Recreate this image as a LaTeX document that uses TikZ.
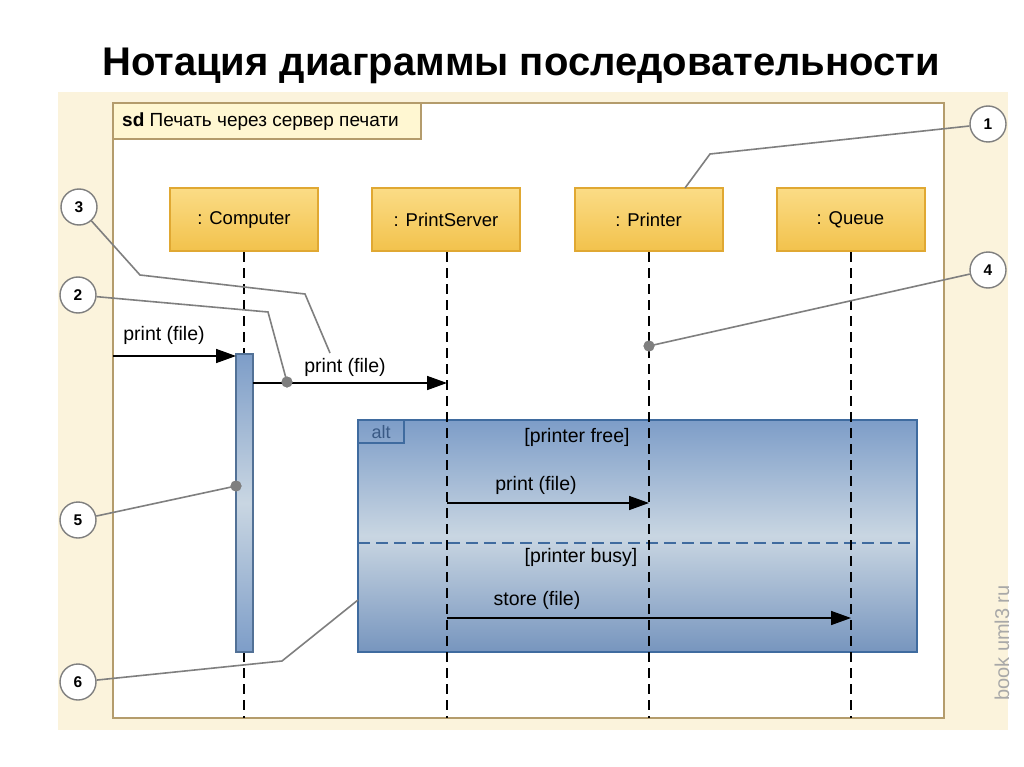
\documentclass[tikz,border=0pt]{standalone}
\usepackage{fontspec}
\setmainfont{Liberation Sans}
\usetikzlibrary{arrows.meta,calc}
\definecolor{bgbeige}{HTML}{FBF3DC}
\definecolor{framebrown}{HTML}{B49C6C}
\definecolor{sdfill}{HTML}{FFF7D2}
\definecolor{boxborder}{HTML}{E0A832}
\definecolor{boxtop}{HTML}{FBDC86}
\definecolor{boxbot}{HTML}{F2C24C}
\definecolor{altdark}{HTML}{7D9DC8}
\definecolor{altlight}{HTML}{C9D6E2}
\definecolor{altborder}{HTML}{3F6B9F}
\definecolor{alttext}{HTML}{3A5A85}
\definecolor{callgray}{HTML}{7F7F7F}
\definecolor{wmgray}{HTML}{A8A8A8}
\begin{document}
\begin{tikzpicture}[x=1pt,y=-1pt,
 lifebox/.style={draw=boxborder,line width=2pt,top color=boxtop,bottom color=boxbot,minimum width=148pt,minimum height=63pt,inner sep=0pt,font=\fontsize{18.5}{20}\selectfont},
 lifeline/.style={dash pattern=on 10pt off 6pt,line width=1.8pt},
 msg/.style={line width=1.6pt,-{Triangle[length=20pt,width=14pt]}},
 msglabel/.style={font=\fontsize{19.5}{21}\selectfont,inner sep=0pt},
 callout/.style={circle,draw=callgray,line width=1.4pt,fill=white,minimum size=36pt,inner sep=0pt,font=\bfseries\fontsize{15.5}{17}\selectfont},
 leader/.style={draw=callgray,line width=1.6pt},
 dotmark/.style={circle,fill=callgray,minimum size=11pt,inner sep=0pt}
]
\useasboundingbox (0,0) rectangle (1024,767);
% title
\node[font=\bfseries\fontsize{40}{44}\selectfont] (title) at (521,66) {Нотация диаграммы последовательности};
% background and frame
\fill[bgbeige] (58,92) rectangle (1008,730);
\draw[framebrown,line width=2pt,fill=white] (113,103) rectangle (944,718);
\draw[framebrown,line width=2pt,fill=sdfill] (113,103) rectangle (421,139);
\node[anchor=west,font=\fontsize{19}{21}\selectfont,inner sep=0pt] (sd) at (122,122) {\textbf{sd} Печать через сервер печати};
% lifeline heads
\node[lifebox] (comp) at (244,219.5) {: Computer};
\node[lifebox] (serv) at (446,219.5) {: PrintServer};
\node[lifebox] (prnt) at (648.5,219.5) {: Printer};
\node[lifebox] (queue) at (850.5,219.5) {: Queue};
\coordinate (compend) at (244,718);
\coordinate (servend) at (447,718);
\coordinate (prntend) at (649,718);
\coordinate (queueend) at (851,718);
% alt fragment
\node[draw=altborder,line width=1.8pt,top color=altdark,bottom color=altdark!95!black,middle color=altlight,minimum width=559pt,minimum height=232pt,inner sep=0pt] (alt) at (637.5,536) {};
\draw[altborder,line width=1.5pt] (358,443) -- (404,443) -- (404,420);
\node[font=\fontsize{18}{20}\selectfont,text=alttext,inner sep=0pt] (altlbl) at (381,432) {alt};
\coordinate (sepl) at (358,543);
\coordinate (sepr) at (917,543);
\draw[altborder,line width=1.7pt,dash pattern=on 12pt off 6pt] (sepl) -- (sepr);
\node[msglabel] (g1) at (577,437) {[printer free]};
\node[msglabel] (g2) at (581,557) {[printer busy]};
% lifelines
\draw[lifeline] (comp.south) -- (compend);
\draw[lifeline] (serv.south -| servend) -- (servend);
\draw[lifeline] (prnt.south -| prntend) -- (prntend);
\draw[lifeline] (queue.south -| queueend) -- (queueend);
% activation bar
\node[draw=altborder!70!gray,line width=1.2pt,top color=altdark,bottom color=altdark,middle color=altlight,minimum width=17pt,minimum height=298pt,inner sep=0pt] (act) at (244.5,503) {};
% messages
\coordinate (m1s) at (113,356);
\coordinate (m1e) at (236,356);
\draw[msg] (m1s) -- (m1e);
\node[msglabel] (l1) at (164,335) {print (file)};
\coordinate (m2s) at (253,383);
\coordinate (m2e) at (447,383);
\draw[msg] (m2s) -- (m2e);
\node[msglabel] (l2) at (345,367) {print (file)};
\coordinate (m3s) at (447,503);
\coordinate (m3e) at (649,503);
\draw[msg] (m3s) -- (m3e);
\node[msglabel] (l3) at (536,485) {print (file)};
\coordinate (m4s) at (447,618);
\coordinate (m4e) at (851,618);
\draw[msg] (m4s) -- (m4e);
\node[msglabel] (l4) at (537,600) {store (file)};
% callouts
\node[callout] (c1) at (988,124) {1};
\node[callout] (c2) at (78,295) {2};
\node[callout] (c3) at (79,207) {3};
\node[callout] (c4) at (988,270) {4};
\node[callout] (c5) at (78,520) {5};
\node[callout] (c6) at (78,682) {6};
\node[dotmark] (d2) at (287,382) {};
\node[dotmark] (d4) at (649,346) {};
\node[dotmark] (d5) at (236,486) {};
\coordinate (p1) at (685,188);
\coordinate (p3) at (330,353);
\coordinate (p6) at (358,600);
\draw[leader] (c1) -- (710,154) -- (p1);
\draw[leader] (c2) -- (268,312) -- (d2.center);
\draw[leader] (c3) -- (140,275) -- (305,294) -- (p3);
\draw[leader] (c4) -- (d4.center);
\draw[leader] (c5) -- (d5.center);
\draw[leader] (c6) -- (282,661) -- (p6);
\node[dotmark] at (d2) {};
\node[dotmark] at (d4) {};
\node[dotmark] at (d5) {};
% watermark
\node[rotate=90,text=wmgray,font=\fontsize{20}{22}\selectfont,inner sep=0pt] (wm) at (1002,643) {book uml3 ru};
\end{tikzpicture}
\end{document}
